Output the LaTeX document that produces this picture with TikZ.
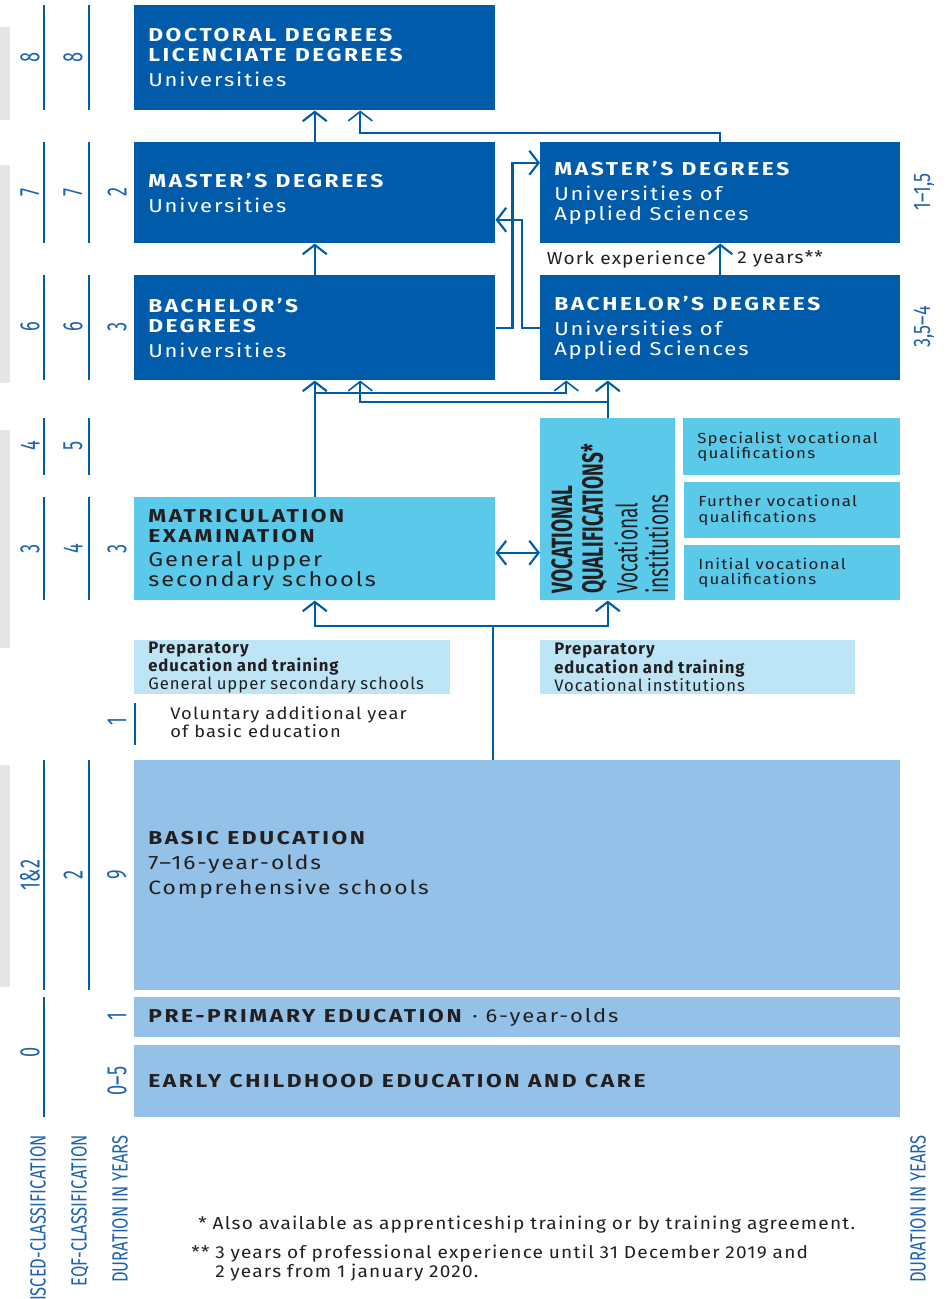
\documentclass[tikz,border=0pt]{standalone}
\usepackage{fontspec}
\setmainfont{Fira Sans}
\newfontfamily\headfont[FakeStretch=1.22,LetterSpace=14]{Fira Sans}
\newfontfamily\subfont[FakeStretch=1.18,LetterSpace=10]{Fira Sans}
\newfontfamily\smallfont[FakeStretch=1.15,LetterSpace=8]{Fira Sans}
\newfontfamily\notefont[FakeStretch=1.1,LetterSpace=7]{Fira Sans}
\newfontfamily\prepfont[LetterSpace=6]{Fira Sans}
\newfontfamily\narrowfont[FakeStretch=0.65]{Fira Sans}
\newfontfamily\capfont[FakeStretch=0.75]{Fira Sans}
\usetikzlibrary{arrows.meta,calc}

\definecolor{darkblue}{HTML}{005BAA}
\definecolor{cyanbox}{HTML}{5BC9EA}
\definecolor{palebox}{HTML}{BEE5F6}
\definecolor{midbox}{HTML}{93C1E7}
\definecolor{greyband}{HTML}{E6E6E6}
\definecolor{numblue}{HTML}{1F63B0}
\definecolor{inktext}{HTML}{231F20}

\newcommand{\headtxt}{\headfont\bfseries\fontsize{14}{15}\selectfont\spaceskip=0.45em\relax}
\newcommand{\subtxt}[1][14]{\subfont\mdseries\fontsize{#1}{15}\selectfont\spaceskip=0.4em\relax}
\newcommand{\smalltxt}{\smallfont\fontsize{11}{11.5}\selectfont\spaceskip=0.4em\relax}
\newcommand{\notetxt}{\notefont\fontsize{13}{11.5}\selectfont\spaceskip=0.35em\relax}

\tikzset{
  box/.style={anchor=north west, inner xsep=10.5pt, inner ysep=0pt, align=left},
  darkbox/.style={box, fill=darkblue, text=white},
  cyanfill/.style={box, fill=cyanbox, text=inktext},
  palefill/.style={box, fill=palebox, text=inktext},
  midfill/.style={box, fill=midbox, text=inktext},
  num/.style={rotate=90, text=numblue, inner sep=0pt, font=\narrowfont\fontsize{21}{21}\selectfont},
  axislabel/.style={rotate=90, anchor=east, text=numblue, inner sep=0pt, font=\capfont\fontsize{16.5}{16.5}\selectfont},
  scaleline/.style={draw=darkblue, line width=2pt},
  flowline/.style={draw=darkblue, line width=1.6pt},
  flow/.style={flowline, -{Straight Barb[length=7pt,width=18pt]}},
  thinflow/.style={draw=darkblue, line width=1.2pt, -{Straight Barb[length=7pt,width=18pt]}},
  note/.style={anchor=west, inner sep=0pt, text=inktext, font=\notetxt}
}

\begin{document}
\begin{tikzpicture}[x=0.75pt, y=-0.75pt]
\useasboundingbox (0,0) rectangle (946,1299);

% grey bands behind the ISCED column
\fill[greyband] (0,27) rectangle (10,120);
\fill[greyband] (0,165) rectangle (10,383);
\fill[greyband] (0,430) rectangle (10,648);
\fill[greyband] (0,765) rectangle (10,987);

% scale lines
\foreach \a/\b in {5/110,142/243,275/380,418/475,497/600,760/990,997/1117}
  \draw[scaleline] (44,\a) -- (44,\b);
\foreach \a/\b in {5/110,142/243,275/380,418/475,497/600,760/990}
  \draw[scaleline] (89,\a) -- (89,\b);
\draw[scaleline] (135,703) -- (135,745);

% ISCED / EQF / duration numbers
\node[num] (isc8) at (30,57) {8};
\node[num] (eqf8) at (73,57) {8};
\node[num] (isc7) at (30,192) {7};
\node[num] (eqf7) at (73,192) {7};
\node[num] (dur7) at (117,192) {2};
\node[num] (isc6) at (30,327) {6};
\node[num] (eqf6) at (73,327) {6};
\node[num] (dur6) at (117,327) {3};
\node[num] (isc4) at (30,446) {4};
\node[num] (eqf5) at (73,446) {5};
\node[num] (isc3) at (30,549) {3};
\node[num] (eqf4) at (73,549) {4};
\node[num] (dur3) at (117,549) {3};
\node[num] (durvol) at (117,722) {1};
\node[num] (isc12) at (30,875) {1\&2};
\node[num] (eqf2) at (73,875) {2};
\node[num] (dur9) at (117,875) {9};
\node[num] (isc0) at (30,1052) {0};
\node[num] (durpre) at (117,1017) {1};
\node[num] (durecec) at (117,1081) {0–5};
\node[num, font=\capfont\fontsize{18}{18}\selectfont] (durmuas) at (924,192) {1–1,5};
\node[num, font=\capfont\fontsize{18}{18}\selectfont] (durbuas) at (924,327) {3,5–4};

% boxes
\node[darkbox, minimum height=78.75pt, text width=249.75pt] (docto) at (134,5)
  {\headtxt DOCTORAL DEGREES\\LICENCIATE DEGREES\\[4pt]\subtxt Universities\par};
\node[darkbox, minimum height=75.75pt, text width=249.75pt] (mastuni) at (134,142)
  {\headtxt MASTER’S DEGREES\\[4pt]\subtxt Universities\par};
\node[darkbox, minimum height=75.75pt, text width=249pt] (mastuas) at (540,142)
  {\headtxt MASTER’S DEGREES\\[4pt]\subtxt Universities of\\Applied Sciences\par};
\node[darkbox, minimum height=78.75pt, text width=249.75pt] (bachuni) at (134,275)
  {\headtxt BACHELOR’S\\DEGREES\\[4pt]\subtxt Universities\par};
\node[darkbox, minimum height=78.75pt, text width=249pt] (bachuas) at (540,275)
  {\headtxt BACHELOR’S DEGREES\\[4pt]\subtxt Universities of\\Applied Sciences\par};
\node[cyanfill, minimum height=77.25pt, text width=249.75pt] (matric) at (134,497) {};
\node[anchor=west, align=left, inner sep=0pt, text width=249.75pt, text=inktext] (matrictxt) at (148,550)
  {\headtxt MATRICULATION\\EXAMINATION\\[3pt]\subtxt[15] General upper\\secondary schools\par};
\node[cyanfill, minimum height=136.5pt, minimum width=101.25pt] (voc) at (540,418) {};
\node[rotate=90, anchor=north west, align=left, inner sep=0pt, text width=128pt, text=inktext] (voctxt) at (551,594)
  {\narrowfont\bfseries\fontsize{22}{23}\selectfont VOCATIONAL\\QUALIFICATIONS*\\[3pt]\mdseries Vocational\\institutions\par};
\node[cyanfill, minimum height=42.75pt, text width=141.75pt] (special) at (683,418)
  {\smalltxt Specialist vocational\\qualifications\par};
\node[cyanfill, minimum height=42pt, text width=141pt] (further) at (684,482)
  {\smalltxt Further vocational\\qualifications\par};
\node[cyanfill, minimum height=41.25pt, text width=141pt] (initial) at (684,545)
  {\smalltxt Initial vocational\\qualifications\par};
\node[palefill, minimum height=40.5pt, text width=216pt] (prepgen) at (134,640)
  {\prepfont\fontsize{12.5}{11.5}\selectfont\bfseries Preparatory\\education and training\\\mdseries General upper secondary schools\par};
\node[palefill, minimum height=40.5pt, text width=215.25pt] (prepvoc) at (540,640)
  {\prepfont\fontsize{12.5}{11.5}\selectfont\bfseries Preparatory\\education and training\\\mdseries Vocational institutions\par};
\node[anchor=north west, align=left, inner sep=0pt, text width=200pt, text=inktext] (volyear) at (170,706)
  {\notetxt\fontsize{12.5}{11.5}\selectfont Voluntary additional year\\of basic education\par};
\node[midfill, minimum height=172.5pt, minimum width=574.5pt] (basic) at (134,760) {};
\node[anchor=west, align=left, inner sep=0pt, text width=400pt, text=inktext] (basictxt) at (148,865)
  {\headtxt BASIC EDUCATION\\\subfont\mdseries\fontsize{14.5}{18.5}\selectfont\spaceskip=0.4em 7–16-year-olds\\Comprehensive schools\par};
\node[midfill, minimum height=30pt, text width=553.5pt] (preprim) at (134,997)
  {\headtxt PRE-PRIMARY EDUCATION{\subtxt\hspace{8pt}·\hspace{6pt}6-year-olds}};
\node[midfill, minimum height=54pt, text width=553.5pt] (ecec) at (134,1045)
  {\headtxt EARLY CHILDHOOD EDUCATION AND CARE};

% connectors
\draw[flow] (mastuni.north) -- (docto.south);
\draw[thinflow] (mastuas.north) -- ++(0,-9) -| ($(docto.south)+(45.5,0)$);
\draw[flow] (bachuni.north) -- (mastuni.south);
\draw[flow] (bachuas.north) -- node[note, anchor=east, xshift=-10pt]{Work experience}
  node[note, anchor=west, xshift=12pt]{2 years**} (mastuas.south);
\draw[flow] (bachuni.east) -- ++(17,0) |- ($(mastuas.west)+(0,-30)$);
\draw[flow] (bachuas.west) -- ++(-18,0) |- ($(mastuni.east)+(0,27)$);
\draw[flow] (matric.north) -- (bachuni.south);
\coordinate (m1) at ($(matric.north)+(0,-104)$);
\draw[thinflow] (m1) -| ($(bachuas.south)+(-154,0)$);
\draw[flow] (voc.north) -- (voc.north |- bachuas.south);
\coordinate (v1) at ($(voc.north)+(0,-16)$);
\draw[thinflow] (v1) -| ($(bachuni.south)+(45.5,0)$);
\draw[flowline, {Straight Barb[length=7pt,width=18pt]}-{Straight Barb[length=7pt,width=18pt]}] ($(matric.east)+(0,4)$) -- ($(matric.east -| voc.west)+(0,4)$);
\coordinate (b1) at ($(basic.north)+(-24,0)$);
\draw[flowline] (b1) -- ++(0,-134) coordinate (b2);
\draw[flow] (b2) -| (matric.south);
\draw[flow] (b2) -| (voc.south);

% axis captions
\node[axislabel] (iscedcap) at (38,1135) {ISCED-CLASSIFICATION};
\node[axislabel] (eqfcap) at (80,1135) {EQF-CLASSIFICATION};
\node[axislabel] (durcap) at (120,1135) {DURATION IN YEARS};
\node[axislabel] (durcapr) at (918,1135) {DURATION IN YEARS};

% footnotes
\node[note] (fn1) at (198,1225) {* Also available as apprenticeship training or by training agreement.};
\node[note, anchor=north west, align=left, text width=500pt] (fn2) at (215,1245)
  {\llap{** }3 years of professional experience until 31 December 2019 and\\2 years from 1 january 2020.\par};
\end{tikzpicture}
\end{document}
